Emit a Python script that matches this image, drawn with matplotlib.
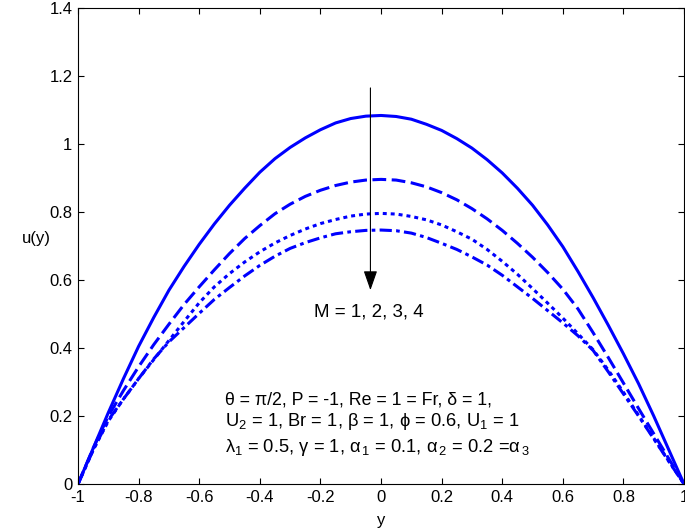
import numpy as np
import matplotlib
matplotlib.use('Agg')
import matplotlib.pyplot as plt

plt.rcParams['font.family'] = ['Liberation Sans', 'DejaVu Sans']
plt.rcParams['mathtext.fontset'] = 'custom'
plt.rcParams['mathtext.rm'] = 'Liberation Sans'
plt.rcParams['mathtext.it'] = 'Liberation Sans:italic'
plt.rc('font', size=12)

# data, u(y) for M = 1, 2, 3, 4
y = [-1.0, -0.95, -0.9, -0.85, -0.8, -0.75, -0.7, -0.65, -0.6, -0.55, -0.5,
     -0.45, -0.4, -0.35, -0.3, -0.25, -0.2, -0.15, -0.1, -0.05, 0.0,
     0.05, 0.1, 0.15, 0.2, 0.25, 0.3, 0.35, 0.4, 0.45, 0.5,
     0.55, 0.6, 0.65, 0.7, 0.75, 0.8, 0.85, 0.9, 0.95, 1.0]
u_m1 = [0.0, 0.105, 0.21, 0.31, 0.405, 0.49, 0.57, 0.64, 0.705, 0.765, 0.82,
        0.87, 0.917, 0.957, 0.99, 1.018, 1.042, 1.062, 1.075, 1.082, 1.084,
        1.081, 1.073, 1.058, 1.04, 1.016, 0.988, 0.954, 0.915, 0.87, 0.82,
        0.762, 0.698, 0.625, 0.548, 0.467, 0.383, 0.295, 0.2, 0.1, 0.0]
u_m2 = [0.0, 0.105, 0.2, 0.275, 0.345, 0.41, 0.47, 0.528, 0.58, 0.63, 0.678,
        0.722, 0.76, 0.795, 0.823, 0.846, 0.864, 0.878, 0.888, 0.894, 0.896,
        0.894, 0.886, 0.874, 0.857, 0.836, 0.81, 0.78, 0.746, 0.708, 0.667,
        0.622, 0.573, 0.515, 0.445, 0.372, 0.297, 0.222, 0.148, 0.074, 0.0]
u_m3 = [0.0, 0.1, 0.185, 0.25, 0.31, 0.366, 0.422, 0.478, 0.533, 0.58, 0.619,
        0.653, 0.683, 0.709, 0.731, 0.75, 0.766, 0.778, 0.788, 0.794, 0.796,
        0.794, 0.787, 0.777, 0.762, 0.742, 0.72, 0.69, 0.655, 0.617, 0.575,
        0.532, 0.488, 0.442, 0.395, 0.335, 0.27, 0.202, 0.135, 0.067, 0.0]
u_m4 = [0.0, 0.1, 0.188, 0.25, 0.31, 0.368, 0.418, 0.46, 0.502, 0.543, 0.578,
        0.612, 0.643, 0.67, 0.693, 0.71, 0.724, 0.736, 0.742, 0.746, 0.747,
        0.745, 0.738, 0.725, 0.708, 0.69, 0.668, 0.644, 0.614, 0.58, 0.546,
        0.51, 0.474, 0.436, 0.393, 0.33, 0.265, 0.2, 0.133, 0.066, 0.0]

series = [u_m1, u_m2, u_m3, u_m4]
styles = ['-', (0, (4.5, 1.8)), (0, (1.3, 1.3)), (0, (4, 1.4, 1.2, 1.4))]

fig = plt.figure(figsize=(6.85, 5.32), dpi=100)
ax = fig.add_axes([0.1139, 0.0902, 0.8847, 0.8947])

for u, ls in zip(series, styles):
    ax.plot(y, u, color='#0000ff', lw=2.2, linestyle=ls)

# arrow showing increasing M
ax.annotate('', xy=(-0.035, 0.57), xytext=(-0.035, 1.165),
            arrowprops=dict(arrowstyle='-|>,head_length=1.2,head_width=0.42',
                            color='k', lw=0.8, shrinkA=0, shrinkB=0,
                            mutation_scale=10))
ax.text(-0.04, 0.505, 'M = 1, 2, 3, 4', ha='center', va='center', fontsize=13.5)

ax.text(-0.515, 0.246, 'θ = π/2, P = -1, Re = 1 = Fr, δ = 1,',
        va='center', fontsize=12.8)
ax.text(-0.515, 0.184, r'U$_{2}$ = 1, Br = 1, β = 1, ϕ = 0.6, U$_{1}$ = 1',
        va='center', fontsize=13.2)
ax.text(-0.515, 0.107,
        r'λ$_{1}$ = 0.5, γ = 1, α$_{\,1}$ = 0.1, α$_{\,2}$ = 0.2 =α$_{\,3}$',
        va='center', fontsize=13.2)

ax.set_xlim(-1, 1)
ax.set_ylim(0, 1.4)
ax.set_xticks(np.arange(-1, 1.01, 0.2))
ax.set_yticks(np.arange(0, 1.41, 0.2))
ax.set_xticklabels(['-1', '-0.8', '-0.6', '-0.4', '-0.2', '0', '0.2', '0.4',
                    '0.6', '0.8', '1'])
ax.set_yticklabels(['0', '0.2', '0.4', '0.6', '0.8', '1', '1.2', '1.4'])
ax.tick_params('both', direction='in', length=4, width=0.8, pad=4,
               top=True, right=True, labelsize=12)
for sp in ax.spines.values():
    sp.set_linewidth(0.8)

ax.set_xlabel('y', fontsize=12, labelpad=6)
ax.set_ylabel('u(y)', fontsize=12, rotation=0)
ax.yaxis.set_label_coords(-0.068, 0.5)

fig.savefig('out.png', dpi=100)
